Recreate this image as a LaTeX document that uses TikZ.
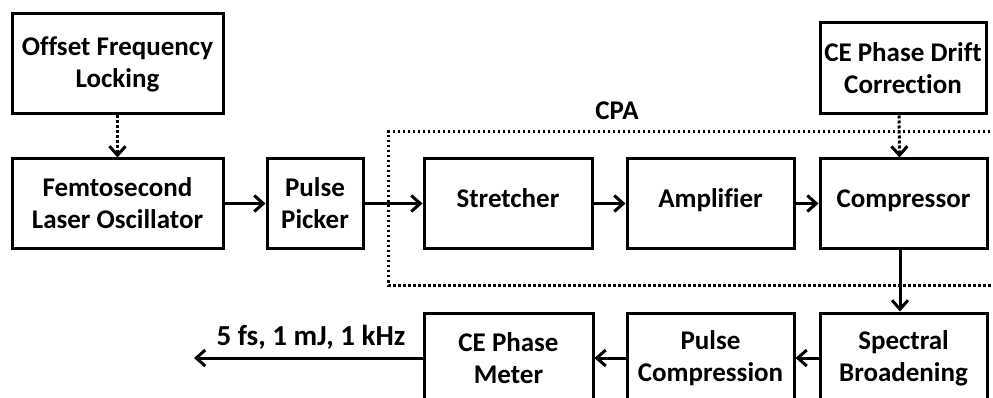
\documentclass[tikz,border=0pt]{standalone}
\usepackage{fontspec}
\setmainfont{Carlito}[Ligatures=NoCommon]
\usetikzlibrary{arrows.meta}
\begin{document}
\begin{tikzpicture}[x=1pt,y=-1pt,
  lbl/.style={font=\fontsize{27}{32}\selectfont\bfseries, inner sep=0pt},
  box/.style={lbl, draw, line width=3pt, rectangle, align=center},
  one/.style={text height=16pt, text depth=8pt},
  flow/.style={line width=3pt, -{Straight Barb[length=9pt,width=16pt,line width=3pt]}},
  ctrl/.style={flow, dash pattern=on 3pt off 2pt},
  group/.style={line width=3pt, dash pattern=on 2.5pt off 2.5pt}
]
\useasboundingbox (0,0) rectangle (993,398);

% top row
\node[box, minimum width=211pt, minimum height=100pt] (lock) at (117.5,64) {Offset Frequency\\Locking};
\node[box, minimum width=211pt, minimum height=89pt] (osc) at (117.5,203.5) {Femtosecond\\Laser Oscillator};
\node[box, minimum width=96pt, minimum height=89pt] (pick) at (315,203.5) {Pulse\\Picker};
\node[box, one, minimum width=168pt, minimum height=89pt] (str) at (508,203.5) {Stretcher};
\node[box, one, minimum width=167pt, minimum height=89pt] (amp) at (710.5,203.5) {Amplifier};
\node[box, one, minimum width=167pt, minimum height=89pt] (comp) at (903.5,203.5) {Compressor};
\node[box, minimum width=166pt, minimum height=91pt] (drift) at (903,68.5) {CE Phase Drift\\Correction};

% CPA group
\draw[group] (1005,132) -- (388,132) -- (388,285) -- (1005,285);
\node[lbl] (cpa) at (617,111) {CPA};

% bottom row
\node[box, minimum width=167pt, minimum height=90pt] (spec) at (903.5,358) {Spectral\\Broadening};
\node[box, minimum width=167pt, minimum height=90pt] (pcomp) at (710.5,358) {Pulse\\Compression};
\node[box, minimum width=169pt, minimum height=90pt] (meter) at (508.5,358) {CE Phase\\Meter};
\coordinate (out) at (194,358);
\node[lbl, anchor=base, font=\fontsize{29}{32}\selectfont\bfseries] (outlbl) at (311,345) {5 fs, 1 mJ, 1 kHz};

% connectors
\draw[ctrl] (lock) -- (osc);
\draw[ctrl] ([xshift=-4pt]drift.south) -- ([xshift=-4pt]comp.north);
\draw[flow] (osc) -- (pick);
\draw[flow] (pick) -- (str);
\draw[flow] (str) -- (amp);
\draw[flow] (amp) -- (comp);
\draw[flow] ([xshift=-3.5pt]comp.south) -- ([xshift=-3.5pt]spec.north);
\draw[flow] (spec) -- (pcomp);
\draw[flow] (pcomp) -- (meter);
\draw[flow] (meter) -- (out);
\end{tikzpicture}
\end{document}
